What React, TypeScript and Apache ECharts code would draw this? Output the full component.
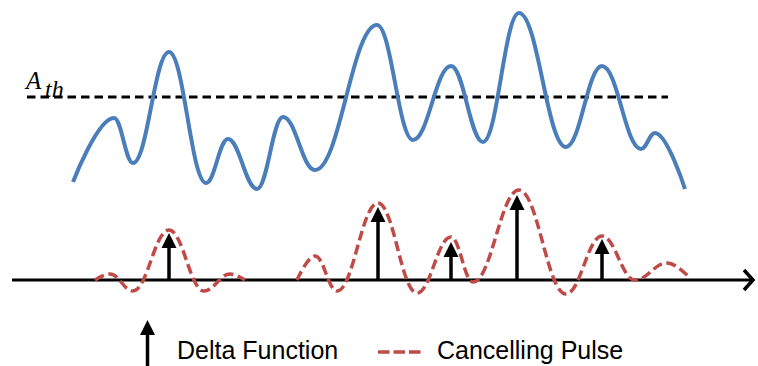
import React, { useEffect, useRef } from 'react';
import * as echarts from 'echarts';

// Signal (blue) – x position, amplitude above the baseline
const signalX = [73, 114, 133, 169, 206, 228, 257, 283, 315, 377, 413, 451, 483, 519, 566, 602, 641, 655, 685];
const signalY = [98, 162, 117, 228, 97, 141, 91, 163, 110, 255, 140, 214, 138, 267, 133, 214, 131, 147, 91];

// Threshold A_th
const thresholdX = [27, 668];
const thresholdLevel = 183;

// Cancelling pulses (red dashed) – two separate runs
const pulseAX = [95, 110, 133, 169, 204, 230, 245];
const pulseAY = [0, 6, -11, 50, -11, 6, 0];
const pulseBX = [297, 315, 337, 378, 417, 451, 473, 519, 566, 602, 635, 667, 690];
const pulseBY = [0, 24, -11, 77, -13, 43, -2, 90, -14, 44, 0, 17, 2];

// Delta functions (black arrows)
const deltaX = [169, 378, 451, 517, 602];
const deltaH = [47, 73, 38, 85, 41];

// Baseline axis
const axisX = [12, 753];
const chevronX = [744, 753, 744];
const chevronY = [10, 0, -10];

const legendLabels = ['Delta Function', 'Cancelling Pulse'];

const BLUE = '#4A7EBB';
const RED = '#BE4B48';

const zip = (xs: number[], ys: number[]) => xs.map((x, i) => [x, ys[i]]);

export default function App() {
  const ref = useRef<HTMLDivElement>(null);
  useEffect(() => {
    if (!ref.current) return;
    const chart = echarts.init(ref.current, null, { renderer: 'svg' });
    chart.setOption({
      animation: false,
      backgroundColor: '#ffffff',
      grid: { left: 0, right: 0, top: 0, bottom: 0, containLabel: false },
      xAxis: { type: 'value', min: 0, max: 758, show: false },
      yAxis: { type: 'value', min: -86, max: 280, show: false },
      series: [
        {
          type: 'line',
          name: 'axis',
          data: zip(axisX, [0, 0]),
          symbol: 'none',
          silent: true,
          lineStyle: { color: '#000', width: 3 },
          z: 1,
        },
        {
          type: 'line',
          name: 'chevron',
          data: zip(chevronX, chevronY),
          symbol: 'none',
          silent: true,
          lineStyle: { color: '#000', width: 3.5, join: 'miter' },
          z: 1,
        },
        {
          type: 'custom',
          name: legendLabels[0],
          data: zip(deltaX, deltaH),
          silent: true,
          z: 2,
          renderItem: (params: any, api: any) => {
            const x = api.value(0);
            const h = api.value(1);
            const base = api.coord([x, 0]);
            const tip = api.coord([x, h]);
            const headLen = 15;
            const headW = 7.5;
            return {
              type: 'group',
              children: [
                {
                  type: 'line',
                  shape: { x1: base[0], y1: base[1], x2: tip[0], y2: tip[1] + headLen },
                  style: { stroke: '#000', lineWidth: 3.5 },
                },
                {
                  type: 'polygon',
                  shape: {
                    points: [
                      [tip[0] - headW, tip[1] + headLen],
                      [tip[0] + headW, tip[1] + headLen],
                      [tip[0], tip[1]],
                    ],
                  },
                  style: { fill: '#000' },
                },
              ],
            };
          },
        },
        {
          type: 'line',
          name: legendLabels[1],
          data: zip(pulseAX, pulseAY),
          symbol: 'none',
          smooth: 0.4,
          smoothMonotone: 'x',
          silent: true,
          lineStyle: { color: RED, width: 3.5, type: [10, 4.5] },
          z: 3,
        },
        {
          type: 'line',
          name: legendLabels[1] + ' B',
          data: zip(pulseBX, pulseBY),
          symbol: 'none',
          smooth: 0.4,
          smoothMonotone: 'x',
          silent: true,
          lineStyle: { color: RED, width: 3.5, type: [10, 4.5] },
          z: 3,
        },
        {
          type: 'line',
          name: 'threshold',
          data: zip(thresholdX, [thresholdLevel, thresholdLevel]),
          symbol: 'none',
          silent: true,
          lineStyle: { color: '#000', width: 3, type: [8.5, 5] },
          z: 2,
        },
        {
          type: 'line',
          name: 'signal',
          data: zip(signalX, signalY),
          symbol: 'none',
          smooth: 0.4,
          smoothMonotone: 'x',
          silent: true,
          lineStyle: { color: BLUE, width: 4 },
          z: 4,
        },
      ],
      graphic: [
        {
          type: 'text',
          left: 26,
          top: 68,
          silent: true,
          style: {
            text: 'A',
            fontSize: 25,
            fontStyle: 'italic',
            fontFamily: '"Liberation Serif", "DejaVu Serif", serif',
            fill: '#000',
          },
        },
        {
          type: 'text',
          left: 45,
          top: 77,
          silent: true,
          style: {
            text: 'th',
            fontSize: 24,
            fontStyle: 'italic',
            fontFamily: '"Liberation Serif", "DejaVu Serif", serif',
            fill: '#000',
          },
        },
        // legend: delta arrow
        {
          type: 'line',
          silent: true,
          shape: { x1: 147.5, y1: 366, x2: 147.5, y2: 334 },
          style: { stroke: '#000', lineWidth: 3.5 },
        },
        {
          type: 'polygon',
          silent: true,
          shape: { points: [[140, 335], [155, 335], [147.5, 320]] },
          style: { fill: '#000' },
        },
        {
          type: 'text',
          left: 177,
          top: 337,
          silent: true,
          style: {
            text: legendLabels[0],
            fontSize: 25,
            fontFamily: '"Liberation Sans", Arial, sans-serif',
            fill: '#000',
          },
        },
        // legend: cancelling pulse
        {
          type: 'line',
          silent: true,
          shape: { x1: 378, y1: 352, x2: 422, y2: 352 },
          style: { stroke: RED, lineWidth: 3.5, lineDash: [11.5, 4] },
        },
        {
          type: 'text',
          left: 437,
          top: 337,
          silent: true,
          style: {
            text: legendLabels[1],
            fontSize: 25,
            fontFamily: '"Liberation Sans", Arial, sans-serif',
            fill: '#000',
          },
        },
      ],
    });
    return () => chart.dispose();
  }, []);
  return (
    <div
      ref={ref}
      style={{ position: 'absolute', left: 0, top: 0, width: 758, height: 366 }}
    />
  );
}
